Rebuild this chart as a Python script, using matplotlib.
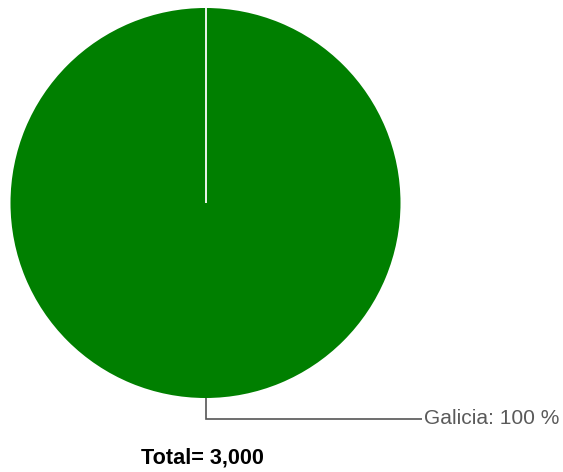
import matplotlib
matplotlib.use("Agg")
import matplotlib.pyplot as plt

# Data
labels = ["Galicia"]
values = [3000]
colors = ["#007f00"]

W, H = 563, 472
fig = plt.figure(figsize=(W / 100, H / 100), dpi=100)
ax = fig.add_axes([0, 0, 1, 1])

cx, cy, r = 205.5, H - 203, 195
ax.pie(values, colors=colors, startangle=90, counterclock=False,
       center=(cx, cy), radius=r, frame=True,
       wedgeprops=dict(edgecolor="none", linewidth=0))
ax.set_xlim(0, W)
ax.set_ylim(0, H)
ax.set_aspect("auto")
ax.axis("off")

# slice boundary (start angle at top)
ax.plot([cx, cx], [cy, cy + r], color="white", lw=1.3, solid_capstyle="butt")

total = sum(values)
pct = 100 * values[0] / total

# leader line from bottom of pie
y_bottom = cy - r
y_lead = H - 419
x_end = 422
ax.plot([cx, cx, x_end], [y_bottom, y_lead, y_lead], color="#555555", lw=1.2,
        solid_capstyle="butt", solid_joinstyle="miter")
ax.text(x_end + 2, y_lead, f"{labels[0]}: {pct:.0f} %", color="#5a5a5a",
        fontsize=15.1, family="Liberation Sans", va="center", ha="left")

ax.text(202, H - 458, f"Total= {total:,}", color="black", fontsize=15.6,
        fontweight="bold", family="Liberation Sans", va="center", ha="center")

fig.savefig("out.png", dpi=100)
